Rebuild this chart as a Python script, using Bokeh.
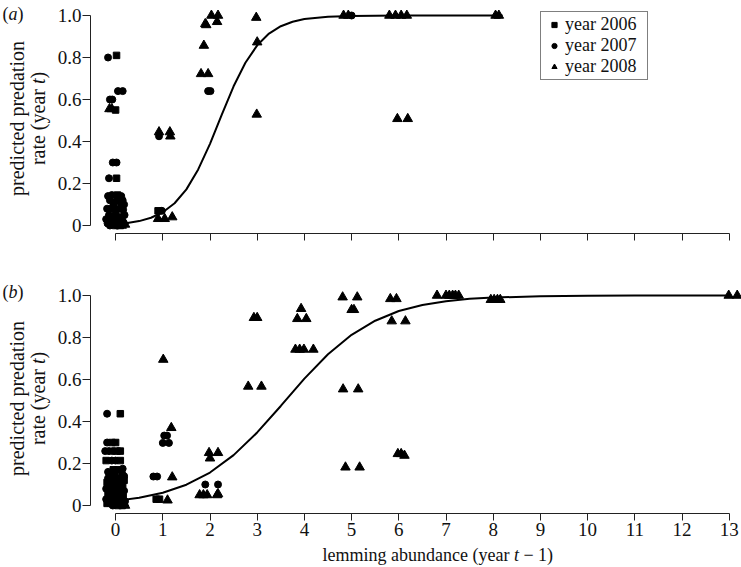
import math
from bokeh.plotting import figure
from bokeh.models import (Range1d, FixedTicker, CustomJSTickFormatter, Label,
                          Legend, LegendItem)
from bokeh.layouts import column
from bokeh.embed import file_html
from bokeh.resources import INLINE

# ---------------- data ----------------
x_ticks = list(range(14))
y_ticks = [0, 0.2, 0.4, 0.6, 0.8, 1.0]
year_labels = ["year 2006", "year 2007", "year 2008"]

# panel (a)
a06_x = [0.02, 0.00, 0.02, 0.04, -0.04, 0.00, -0.06, 0.06, -0.02, 0.10, 0.00, 0.90]
a06_y = [0.81, 0.55, 0.225, 0.145, 0.11, 0.07, 0.04, 0.03, 0.02, 0.00, 0.00, 0.07]

a07_x = [-0.16, -0.12, -0.07, 0.05, 0.15, -0.06, 0.02, -0.14, -0.16, -0.08, 0.12,
         -0.12, 0.03, 0.15, -0.18, -0.10, -0.02, 0.08, 0.16, -0.14, 0.00, 0.10,
         -0.17, -0.09, -0.01, 0.07, 0.15, -0.12, 0.03, -0.20, 0.18, -0.04, 0.11,
         0.19, -0.06, 0.92, 0.98, 1.96, 2.01, 5.00]
a07_y = [0.80, 0.60, 0.60, 0.64, 0.64, 0.30, 0.30, 0.225, 0.14, 0.145, 0.14,
         0.12, 0.12, 0.12, 0.08, 0.08, 0.08, 0.08, 0.075, 0.05, 0.05, 0.04,
         0.01, 0.01, 0.01, 0.005, 0.005, 0.00, 0.00, 0.03, 0.10, 0.10, 0.11,
         0.05, 0.03, 0.425, 0.07, 0.64, 0.64, 1.00]

a08_x = [-0.13, -0.08, 0.13, 0.20, 0.17, 0.92, 1.15, 1.16, 0.90, 1.04, 1.20,
         2.03, 2.17, 1.90, 1.92, 2.15, 1.87, 1.81, 1.96, 2.98, 3.00, 2.99,
         4.83, 4.93, 5.80, 5.93, 6.05, 6.17, 5.97, 6.19, 8.05, 8.12]
a08_y = [0.555, 0.555, 0.00, 0.005, 0.02, 0.445, 0.445, 0.425, 0.032, 0.032, 0.04,
         1.00, 1.00, 0.96, 0.955, 0.97, 0.857, 0.722, 0.722, 0.99, 0.873, 0.529,
         1.00, 1.00, 1.00, 1.00, 1.00, 1.00, 0.508, 0.508, 1.00, 1.00]

curve_a_x = [0, 0.25, 0.5, 0.75, 1.0, 1.25, 1.5, 1.75, 2.0, 2.25, 2.5, 2.75, 3.0,
             3.25, 3.5, 3.75, 4.0, 4.5, 5.0, 5.5, 6.0, 7.0, 8.2]
curve_a_y = [0.007, 0.012, 0.021, 0.037, 0.063, 0.106, 0.172, 0.267, 0.389, 0.528,
             0.663, 0.775, 0.858, 0.914, 0.949, 0.970, 0.983, 0.994, 0.998, 0.999,
             1.0, 1.0, 1.0]

# panel (b)
b06_x = [0.10, -0.08, 0.00, 0.03, 0.10, -0.20, 0.10, -0.05, 0.05, -0.12, 0.10,
         -0.18, 0.00, 0.15, -0.10, 0.08, -0.16, 0.02, 0.16, -0.08, 0.10, -0.18,
         -0.02, 0.14, 0.05, -0.14, 0.12, -0.02, 0.18, -0.10, 0.86, 0.93]
b06_y = [0.437, 0.30, 0.30, 0.259, 0.259, 0.214, 0.214, 0.17, 0.17, 0.15, 0.13,
         0.11, 0.11, 0.10, 0.08, 0.07, 0.05, 0.05, 0.04, 0.03, 0.02, 0.01,
         0.01, 0.00, 0.00, 0.09, 0.06, 0.13, 0.12, 0.15, 0.03, 0.03]

b07_x = [-0.18, -0.18, -0.22, -0.14, -0.06, -0.08, 0.00, 0.15, -0.02, 0.18, -0.16,
         0.06, -0.06, 0.10, -0.20, 0.02, 0.18, -0.12, 0.08, -0.04, -0.20, 0.20,
         0.04, -0.12, 0.10, -0.06, 0.14, -0.16, 0.00, 0.12, -0.08,
         1.03, 1.09, 1.00, 1.13, 0.80, 0.88, 1.90, 2.17]
b07_y = [0.437, 0.30, 0.259, 0.259, 0.259, 0.214, 0.214, 0.175, 0.15, 0.14, 0.13,
         0.12, 0.10, 0.09, 0.08, 0.08, 0.07, 0.06, 0.04, 0.04, 0.03, 0.02,
         0.02, 0.01, 0.005, 0.00, 0.15, 0.16, 0.03, 0.11, 0.125,
         0.333, 0.333, 0.298, 0.298, 0.138, 0.138, 0.10, 0.10]

b08_x = [0.12, 0.18, 0.20, 1.01, 1.18, 1.20, 1.10, 1.98, 2.17, 2.00, 1.78, 1.86,
         1.94, 2.15, 2.17, 2.93, 3.00, 2.81, 3.09, 3.93, 3.85, 4.04, 3.81, 3.90,
         3.99, 4.19, 4.81, 5.12, 5.00, 5.05, 4.82, 5.14, 4.87, 5.17, 5.82, 5.95,
         5.85, 6.14, 5.98, 6.05, 6.12, 6.81, 7.00, 7.07, 7.14, 7.20, 7.27, 7.95,
         8.02, 8.09, 8.15, 12.99, 13.17]
b08_y = [0.03, 0.01, 0.00, 0.695, 0.37, 0.135, 0.025, 0.251, 0.251, 0.225, 0.05, 0.05,
         0.05, 0.05, 0.055, 0.894, 0.894, 0.567, 0.567, 0.937, 0.889, 0.889, 0.743, 0.743,
         0.743, 0.743, 0.992, 0.992, 0.932, 0.932, 0.554, 0.554, 0.182, 0.182, 0.984, 0.984,
         0.878, 0.878, 0.246, 0.246, 0.238, 1.00, 1.00, 1.00, 1.00, 1.00, 1.00, 0.98,
         0.98, 0.98, 0.98, 1.00, 1.00]

curve_b_x = [0, 0.5, 1.0, 1.5, 2.0, 2.5, 3.0, 3.5, 4.0, 4.5, 5.0, 5.5, 6.0, 6.5,
             7.0, 7.5, 8.0, 9.0, 10.0, 11.0, 12.0, 13.0]
curve_b_y = [0.022, 0.037, 0.061, 0.099, 0.157, 0.240, 0.348, 0.474, 0.604, 0.720,
             0.813, 0.880, 0.926, 0.955, 0.973, 0.984, 0.990, 0.997, 0.999, 1.0,
             1.0, 1.0]

# ---------------- layout constants (page pixels) ----------------
FONT = "Liberation Serif"
INK = "#111111"
W = 741
X0 = 115.1          # page x of abundance 0
XS = 47.2           # px per unit x
YS = 210.0          # px per unit y
AXIS_X = 90.0       # page x of the y axes
XR = ((0 - X0) / XS, (W - X0) / XS)

A_TOP, A_H, A_Y0, A_AXIS_Y = 0, 255, 225.0, 233.0
B_TOP, B_H, B_Y0, B_AXIS_Y = 255, 312, 505.0, 513.0


def make_fig(page_top, fig_h, y0, axis_y):
    yr = ((y0 - (page_top + fig_h)) / YS, (y0 - page_top) / YS)
    p = figure(width=W, height=fig_h, output_backend="svg", toolbar_location=None,
               x_range=Range1d(*XR), y_range=Range1d(*yr),
               min_border=0, min_border_left=0, min_border_right=0,
               min_border_top=0, min_border_bottom=0)
    p.outline_line_color = None
    p.xgrid.visible = False
    p.ygrid.visible = False
    p.background_fill_color = "white"
    p.border_fill_color = "white"
    p.xaxis[0].fixed_location = (y0 - axis_y) / YS
    p.yaxis[0].fixed_location = (AXIS_X - X0) / XS
    for ax, bounds, ticks, out, so in ((p.xaxis[0], (0, 13), x_ticks, 7, 2),
                                       (p.yaxis[0], (0, 1), y_ticks, 8, 1)):
        ax.bounds = bounds
        ax.ticker = FixedTicker(ticks=ticks)
        ax.minor_tick_line_color = None
        ax.major_tick_in = 0
        ax.major_tick_out = out
        ax.axis_line_color = "#222222"
        ax.major_tick_line_color = "#222222"
        ax.axis_line_width = 1
        ax.major_tick_line_width = 1
        ax.major_label_text_font = FONT
        ax.major_label_text_font_size = "19px"
        ax.major_label_text_color = INK
        ax.major_label_standoff = so
    p.yaxis[0].formatter = CustomJSTickFormatter(
        code="return tick == 0 ? '0' : tick.toFixed(1);")
    return p


def label(p, y0, sx, sy, text, size="18px", italic=False, angle=0.0, align="left"):
    p.add_layout(Label(x=(sx - X0) / XS, y=(y0 - sy) / YS, text=text,
                       text_font=FONT, text_font_size=size, text_color=INK,
                       text_font_style="italic" if italic else "normal",
                       angle=angle, text_align=align, text_baseline="alphabetic"))


def add_titles(p, y0, tag, tag_base, ycenter):
    # panel tag "(a)" / "(b)"
    label(p, y0, 2, tag_base, "(")
    label(p, y0, 8, tag_base, tag, italic=True)
    label(p, y0, 17, tag_base, ")")
    # y-axis title, two rotated lines (20px)
    up = math.pi / 2
    fs = "20px"
    label(p, y0, 16.5, ycenter, "predicted predation", size=fs, angle=up, align="center")
    start = ycenter + 46.6
    label(p, y0, 37.5, start, "rate (year", size=fs, angle=up)
    label(p, y0, 37.5, start - 81.06, "t", size=fs, italic=True, angle=up)
    label(p, y0, 37.5, start - 86.62, ")", size=fs, angle=up)


def draw(p, d06, d07, d08, curve):
    p.line(curve[0], curve[1], line_color="black", line_width=2)
    r6 = p.scatter(d06[0], d06[1], marker="square", size=6.5, color="black")
    r7 = p.scatter(d07[0], d07[1], marker="circle", size=7, color="black")
    r8 = p.scatter(d08[0], d08[1], marker="triangle", size=9.5, color="black")
    return r6, r7, r8


# ---------------- panel (a) ----------------
pa = make_fig(A_TOP, A_H, A_Y0, A_AXIS_Y)
pa.xaxis[0].formatter = CustomJSTickFormatter(code="return '';")
ra = draw(pa, (a06_x, a06_y), (a07_x, a07_y), (a08_x, a08_y), (curve_a_x, curve_a_y))
add_titles(pa, A_Y0, "a", 13.5, 118.0)

legend = Legend(items=[LegendItem(label=lab, renderers=[r]) for lab, r in zip(year_labels, ra)],
                location=(540, A_TOP + A_H - 80))
legend.label_text_font = FONT
legend.label_text_font_size = "18px"
legend.label_text_color = INK
legend.label_height = 19
legend.label_width = 80
legend.glyph_height = 13
legend.glyph_width = 22
legend.label_standoff = 0
legend.spacing = 0
legend.padding = 2
legend.border_line_color = "black"
legend.border_line_width = 1.2
legend.background_fill_color = "white"
legend.background_fill_alpha = 1.0
pa.add_layout(legend)

# ---------------- panel (b) ----------------
pb = make_fig(B_TOP, B_H, B_Y0, B_AXIS_Y)
draw(pb, (b06_x, b06_y), (b07_x, b07_y), (b08_x, b08_y), (curve_b_x, curve_b_y))
add_titles(pb, B_Y0, "b", 291.0, 398.0)

# x-axis title (pieces so that t is italic)
label(pb, B_Y0, 322.0, 554.5, "lemming abundance (year")
label(pb, B_Y0, 513.45, 554.5, "t", italic=True)
label(pb, B_Y0, 522.95, 554.5, "\u2212 1)")

layout = column(pa, pb, spacing=0)
open("out.html", "w").write(file_html(layout, INLINE))
